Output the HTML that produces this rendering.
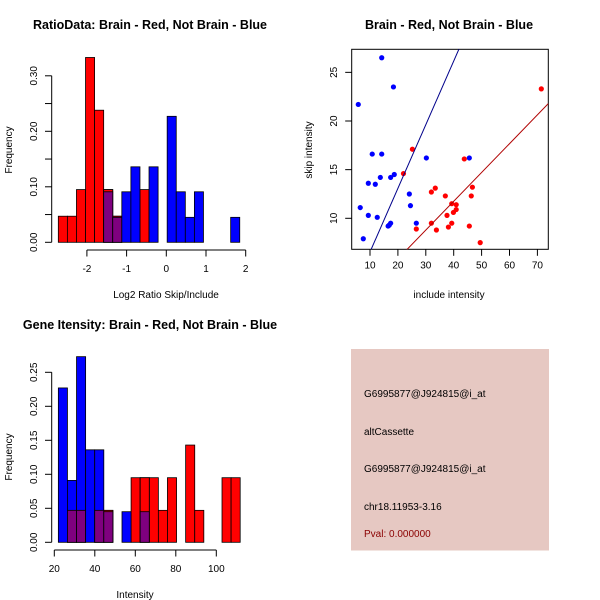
<!DOCTYPE html>
<html><head><meta charset="utf-8"><style>
html,body{margin:0;padding:0;background:#fff;}
svg{display:block;font-family:"Liberation Sans",sans-serif;}
</style></head><body>
<svg id="c" width="600" height="600" viewBox="0 0 600 600" xmlns="http://www.w3.org/2000/svg"></svg>
<script>
// ---- Data: ratio histogram (bin index -> frequency) ----
const ratioBinStart = -2.72;
const ratioBinWidth = 0.2285;
const ratioRedBins = [0,1,2,3,4,5,6,9];
const ratioRedVals = [0.047,0.047,0.095,0.333,0.238,0.095,0.047,0.095];
const ratioBlueBins = [5,6,7,8,10,12,13,14,15,19];
const ratioBlueVals = [0.091,0.045,0.091,0.136,0.136,0.227,0.091,0.045,0.091,0.045];
const ratioXTicks = [-2,-1,0,1,2];
const ratioYTicks = [0,0.05,0.10,0.15,0.20,0.25,0.30];
const ratioYLabels = ["0.00","","0.10","","0.20","","0.30"];
// ---- Data: intensity histogram ----
const intBinStart = 22;
const intBinWidth = 4.49;
const intRedBins = [1,2,4,5,8,9,10,11,12,14,15,18,19];
const intRedVals = [0.047,0.047,0.047,0.047,0.095,0.095,0.095,0.047,0.095,0.143,0.047,0.095,0.095];
const intBlueBins = [0,1,2,3,4,5,7,9];
const intBlueVals = [0.227,0.091,0.273,0.136,0.136,0.045,0.045,0.045];
const intXTicks = [20,40,60,80,100];
const intYTicks = [0,0.05,0.10,0.15,0.20,0.25];
const intYLabels = ["0.00","0.05","0.10","0.15","0.20","0.25"];
// ---- Data: scatter ----
const blueX = [14.2,18.4,5.8,10.8,14.2,30.2,45.6,13.7,17.4,18.7,9.4,11.9,24.1,24.5,6.5,9.4,12.6,26.6,16.9,17.4,16.5,7.6];
const blueY = [26.5,23.5,21.7,16.6,16.6,16.2,16.2,14.2,14.2,14.5,13.6,13.5,12.5,11.3,11.1,10.3,10.1,9.5,9.3,9.5,9.2,7.9];
const redX = [71.4,25.2,43.8,22.0,33.4,32.0,46.7,37.0,46.3,39.3,40.9,40.9,39.9,37.6,32.0,39.3,38.1,45.6,26.6,33.8,49.5];
const redY = [23.3,17.1,16.1,14.6,13.1,12.7,13.2,12.3,12.3,11.5,11.4,10.9,10.6,10.3,9.5,9.5,9.1,9.2,8.9,8.8,7.5];
const blueFit = [0.0, 0.654];
const redFit = [-0.09, 0.296];
const scXTicks = [10,20,30,40,50,60,70];
const scYTicks = [10,15,20,25];

const NS="http://www.w3.org/2000/svg";
const svg=document.getElementById('c');
function mk(tag,attrs,parent,text){const e=document.createElementNS(NS,tag);for(const k in attrs)e.setAttribute(k,attrs[k]);if(text!==undefined)e.textContent=text;(parent||svg).appendChild(e);return e;}
function grp(name){const g=mk('g',{});return g;}

function hist(name,cfg){
  const g=grp(name);
  const X=v=>cfg.x0+(v-cfg.v0)*cfg.sx;
  const Y=v=>cfg.y0-v*cfg.sy;
  const bx=i=>X(cfg.bs+i*cfg.bw);
  const bwpx=cfg.bw*cfg.sx;
  const bars=grp(name+'-bars');g.appendChild(bars);
  cfg.rb.forEach((b,i)=>{const r=mk('rect',{x:bx(b),y:Y(cfg.rv[i]),width:bwpx,height:cfg.rv[i]*cfg.sy,fill:'#ff0000',stroke:'#000','stroke-width':0.8},bars);
    });
  cfg.bb.forEach((b,i)=>{const j=cfg.rb.indexOf(b);const v=cfg.bv[i];
    if(j<0){const r=mk('rect',{x:bx(b),y:Y(v),width:bwpx,height:v*cfg.sy,fill:'#0000ff',stroke:'#000','stroke-width':0.8},bars);
      }
    else{const rv=cfg.rv[j];const top=Math.max(v,rv),mn=Math.min(v,rv);
      const r=mk('rect',{x:bx(b),y:Y(top),width:bwpx,height:top*cfg.sy,fill:v>rv?'#0000ff':'#ff0000',stroke:'#000','stroke-width':0.8},bars);
      
      const p=mk('rect',{x:bx(b),y:Y(mn),width:bwpx,height:mn*cfg.sy,fill:'#7f007f',stroke:'#000','stroke-width':0.8},bars);
      }
  });
  const ya=grp(name+'-y-axis');g.appendChild(ya);
  mk('line',{x1:51.7,x2:51.7,y1:Y(cfg.yt[0]),y2:Y(cfg.yt[cfg.yt.length-1]),stroke:'#000'},ya);
  cfg.yt.forEach((t,i)=>{mk('line',{x1:45,x2:51.7,y1:Y(t),y2:Y(t),stroke:'#000'},ya);
    if(cfg.yl[i]){const tx=mk('text',{x:0,y:0,transform:`translate(37,${Y(t)}) rotate(-90)`,'text-anchor':'middle','font-size':10},ya,cfg.yl[i]);
      }});
  const xa=grp(name+'-x-axis');g.appendChild(xa);
  const xt=cfg.xt;
  mk('line',{x1:X(xt[0]),x2:X(xt[xt.length-1]),y1:cfg.xay,y2:cfg.xay,stroke:'#000'},xa);
  xt.forEach(t=>{mk('line',{x1:X(t),x2:X(t),y1:cfg.xay,y2:cfg.xay+6.5,stroke:'#000'},xa);
    const tx=mk('text',{x:X(t),y:cfg.xay+22,'text-anchor':'middle','font-size':10},xa,String(t));
    });
  const yt=mk('text',{transform:`translate(12,${cfg.ylabY}) rotate(-90)`,'text-anchor':'middle','font-size':10},g,'Frequency');
  
  const xl=mk('text',{x:cfg.xlabX,y:cfg.xay+48,'text-anchor':'middle','font-size':10},g,cfg.xlab);
  
  const ti=mk('text',{x:cfg.tx,y:cfg.ty,'text-anchor':'middle','font-size':12.5,'font-weight':'bold'},g,cfg.title);
  
}

hist('ratio-histogram',{x0:166.3,v0:0,sx:39.7,y0:242.3,sy:555,bs:ratioBinStart,bw:ratioBinWidth,
  rb:ratioRedBins,rv:ratioRedVals,bb:ratioBlueBins,bv:ratioBlueVals,xt:ratioXTicks,yt:ratioYTicks,yl:ratioYLabels,
  xay:250,ylabY:150,xlabX:166,xlab:'Log2 Ratio Skip/Include',tx:150,ty:29,title:'RatioData: Brain - Red, Not Brain - Blue'});
hist('intensity-histogram',{x0:54.3,v0:20,sx:2.025,y0:542.3,sy:680,bs:intBinStart,bw:intBinWidth,
  rb:intRedBins,rv:intRedVals,bb:intBlueBins,bv:intBlueVals,xt:intXTicks,yt:intYTicks,yl:intYLabels,
  xay:550,ylabY:457,xlabX:135,xlab:'Intensity',tx:150,ty:329,title:'Gene Itensity: Brain - Red, Not Brain - Blue'});

(function(){
  const g=grp('scatter-plot');
  const L=351.7,R=548.3,T=49.3,B=249.3;
  const X=v=>370+(v-10)*2.79;
  const Y=v=>218.3-(v-10)*9.73;
  const xmin=10+(L-370)/2.79,xmax=10+(R-370)/2.79;
  mk('defs',{},g).innerHTML='<clipPath id="sc"><rect x="'+L+'" y="'+T+'" width="'+(R-L)+'" height="'+(B-T)+'"/></clipPath>';
  const fr=mk('rect',{x:L,y:T,width:R-L,height:B-T,fill:'none',stroke:'#000'},g);
  
  const pts=grp('scatter-points');g.appendChild(pts);
  blueX.forEach((x,i)=>{const c=mk('circle',{cx:X(x),cy:Y(blueY[i]),r:2.6,fill:'#0000ff'},pts);
    });
  redX.forEach((x,i)=>{const c=mk('circle',{cx:X(x),cy:Y(redY[i]),r:2.6,fill:'#ff0000'},pts);
    });
  const lb=mk('line',{x1:X(xmin),y1:Y(blueFit[0]+blueFit[1]*xmin),x2:X(xmax),y2:Y(blueFit[0]+blueFit[1]*xmax),stroke:'#00008b','clip-path':'url(#sc)'},g);
  
  const lr=mk('line',{x1:X(xmin),y1:Y(redFit[0]+redFit[1]*xmin),x2:X(xmax),y2:Y(redFit[0]+redFit[1]*xmax),stroke:'#b00000','clip-path':'url(#sc)'},g);
  
  scXTicks.forEach(t=>{mk('line',{x1:X(t),x2:X(t),y1:B,y2:B+6.5,stroke:'#000'},g);
    const tx=mk('text',{x:X(t),y:B+19,'text-anchor':'middle','font-size':10},g,String(t));
    });
  scYTicks.forEach(t=>{mk('line',{x1:L-6.5,x2:L,y1:Y(t),y2:Y(t),stroke:'#000'},g);
    const tx=mk('text',{transform:`translate(337,${Y(t)}) rotate(-90)`,'text-anchor':'middle','font-size':10},g,String(t));
    });
  const xl=mk('text',{x:449,y:298,'text-anchor':'middle','font-size':10},g,'include intensity');
  
  const yl=mk('text',{transform:'translate(312,150) rotate(-90)','text-anchor':'middle','font-size':10},g,'skip intensity');
  
  const ti=mk('text',{x:449,y:29,'text-anchor':'middle','font-size':12.5,'font-weight':'bold'},g,'Brain - Red, Not Brain - Blue');
  
})();

(function(){
  const g=grp('info-panel');
  mk('rect',{x:351,y:349,width:198,height:201.5,fill:'#e6c8c2'},g);
  const lines=[['G6995877@J924815@i_at',397,'#000','probe-id'],['altCassette',435,'#000','event-type'],['G6995877@J924815@i_at',472,'#000','probe-id-2'],['chr18.11953-3.16',510,'#000','location'],['Pval: 0.000000',537,'#8b0000','p-value']];
  lines.forEach(l=>{const t=mk('text',{x:364,y:l[1],'font-size':10,fill:l[2]},g,l[0]);
    });
})();
</script>
</body></html>
